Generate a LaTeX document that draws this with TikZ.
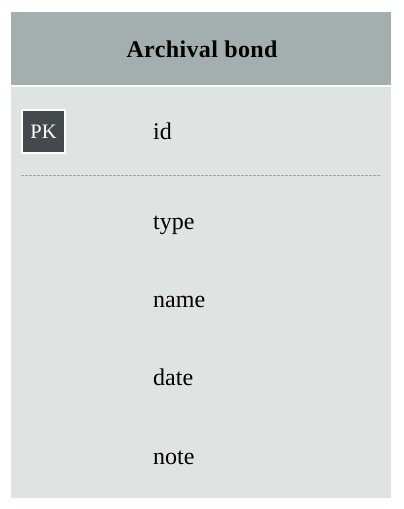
\documentclass[tikz,border=0pt]{standalone}
\usepackage{fontspec}
\setmainfont{Liberation Serif}
\usetikzlibrary{positioning}

\definecolor{entete}{HTML}{A2AFAE}
\definecolor{corps}{HTML}{DFE3E2}
\definecolor{cle}{HTML}{44494B}
\definecolor{pointille}{HTML}{9DA6A6}

\begin{document}
\begin{tikzpicture}[x=1pt, y=-1pt]
  %tikz%
  % Table, fonds archivistique
  %tikz%
    \tikzset{champ/.style={anchor=base west, inner sep=0pt, font=\fontsize{24}{27}\selectfont}}
    \tikzset{cle/.style={fill=cle, draw=white, line width=1.6pt, minimum size=43pt, inner sep=0pt, text=white, font=\fontsize{20.5}{23}\selectfont}}

    \useasboundingbox (0,0) rectangle (404,509);

    \fill[entete] (11,12) rectangle (391,85);
    \fill[corps] (11,87) rectangle (391,498);
    \node[font=\bfseries\fontsize{24}{27}\selectfont] (titre) at (202,49) {\addfontfeature{LetterSpace=1.5}Archival bond};

    \node[cle] (pk) at (43.5,131.5) {PK};
    \node[champ] (id) at (153,139) {id};
    \draw[pointille, line width=1pt, dash pattern=on 2.5pt off 1.5pt] (21,175) -- (381,175);

    \foreach \y/\nom in {229/type, 307/name, 385/date, 464/note}{
      \node[champ] (\nom) at (153,\y) {\nom};
    }

  \end{tikzpicture}
\end{document}
